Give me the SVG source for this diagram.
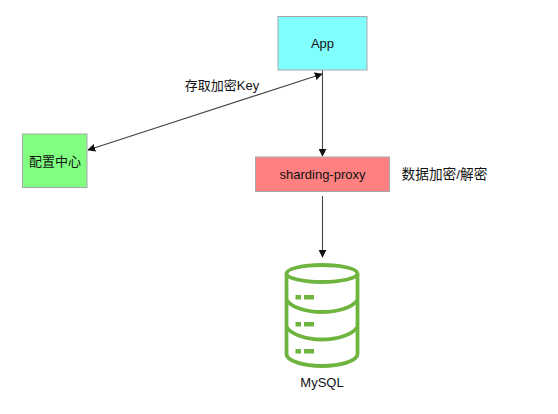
<svg xmlns="http://www.w3.org/2000/svg" width="558" height="414" viewBox="0 0 558 414">
<style>
.n{stroke:#a8a8a8;stroke-width:1}
text{font-family:"Liberation Sans","Noto Sans CJK SC",sans-serif;font-size:13px;fill:#111;text-anchor:middle}
.c{fill:none;stroke:#444;stroke-width:1.100}
.g{fill:none;stroke:#6eb43f;stroke-width:3.800}
.d{fill:#6eb43f}
</style>
<defs>
<marker id="a" viewBox="0 0 10 10" refX="9" refY="5" markerWidth="8" markerHeight="8" markerUnits="userSpaceOnUse" orient="auto-start-reverse"><path d="M0 0L10 5L0 10Z" fill="#111"/></marker>
</defs>
<rect width="558" height="414" fill="#fff"/>
<g id="connectors">
<path class="c" d="M322 74L88 150" marker-start="url(#a)" marker-end="url(#a)"/>
<path class="c" d="M322.500 70V156" marker-end="url(#a)"/>
<path class="c" d="M322.500 196V257" marker-end="url(#a)"/>
</g>
<g id="app"><rect class="n" x="278" y="16.500" width="89" height="53.500" fill="#80ffff"/><text x="322.500" y="47.500">App</text></g>
<g id="proxy"><rect class="n" x="255.500" y="157" width="134" height="34.500" fill="#ff8080"/><text x="322.500" y="179">sharding-proxy</text></g>
<g id="config"><rect class="n" x="22.500" y="134" width="64.500" height="53.500" fill="#80ff80"/><text x="55" y="165.500">配置中心</text></g>
<g id="label-key"><text x="222" y="90">存取加密Key</text></g>
<g id="label-crypt"><text x="444.500" y="179" style="font-size:13.700px">数据加密/解密</text></g>
<g id="mysql">
<ellipse class="g" cx="322" cy="273.500" rx="35.500" ry="8.500"/>
<path class="g" d="M286.500 273.500V354C286.500 361 304 366 322 366C340 366 357.500 361 357.500 354V273.500"/>
<path class="g" d="M286.500 300C292 308 307 312 322 312C337 312 352 308 357.500 300"/>
<path class="g" d="M286.500 327C292 335 307 339.500 322 339.500C337 339.500 352 335 357.500 327"/>
<rect class="d" x="295.500" y="295" width="5.500" height="4.500"/><rect class="d" x="304" y="295" width="10" height="4.500"/>
<rect class="d" x="295.500" y="322" width="5.500" height="4.500"/><rect class="d" x="304" y="322" width="10" height="4.500"/>
<rect class="d" x="295.500" y="349" width="5.500" height="4.500"/><rect class="d" x="304" y="349" width="10" height="4.500"/>
<text x="322" y="387">MySQL</text>
</g>
</svg>
